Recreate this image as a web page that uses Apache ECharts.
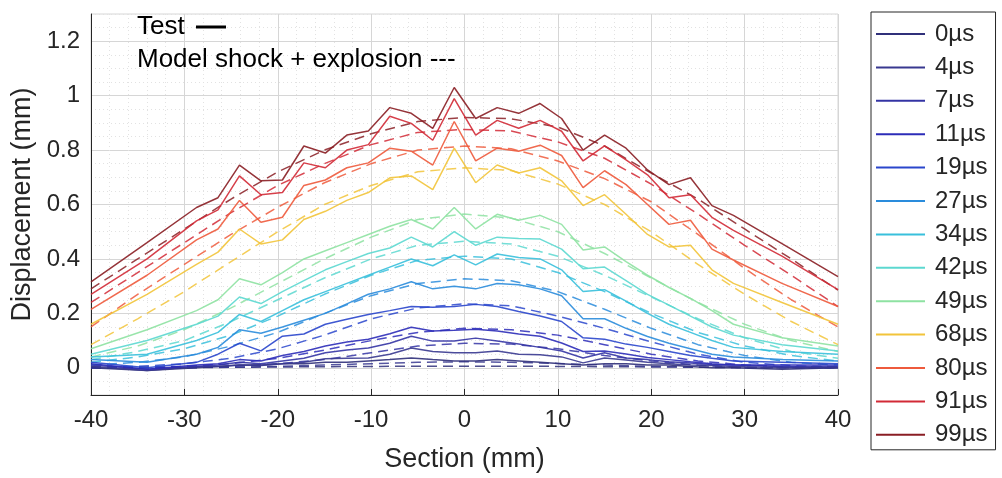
<!DOCTYPE html>
<html>
<head>
<meta charset="utf-8">
<script src="https://cdn.jsdelivr.net/npm/echarts@6/dist/echarts.min.js"></script>
<style>html,body{margin:0;padding:0;background:#fff;}#c{width:1002px;height:478px;}</style>
</head>
<body>
<div id="c"></div>
<script>
// ---- data ----
const timeLabels = ['0µs','4µs','7µs','11µs','19µs','27µs','34µs','42µs','49µs','68µs','80µs','91µs','99µs'];
const lineColors = ['#30307a','#383890','#3434a4','#2c2cb8','#2a46cc','#2a8cdc','#38c0dc','#5cd8d0','#8ee2a2','#f2c43a','#ee5a3c','#d22a36','#8a1e24'];
const testX = [-40,-34,-28.7,-26.4,-24.1,-21.8,-19.5,-17.2,-14.9,-12.6,-10.3,-8.0,-5.7,-3.4,-1.1,1.2,3.5,5.8,8.1,10.4,12.7,15.0,17.3,19.6,21.9,24.2,26.5,28.8,34,40];
const modelX = [-40,-35,-30,-25,-20,-15,-10,-5,0,5,10,15,20,25,30,35,40];
const yTickLabels = ['0','0.2','0.4','0.6','0.8','1','1.2'];

const t0  = [0.0,-0.01,0.0,0.005,0.01,0.01,0.015,0.015,0.02,0.02,0.025,0.03,0.036,0.03,0.025,0.025,0.03,0.025,0.02,0.015,0.01,0.015,0.015,0.01,0.01,0.005,0.0,0.0,-0.005,0.0];
const t4  = [0.005,-0.01,0.005,0.005,0.01,0.008,0.015,0.02,0.033,0.035,0.036,0.05,0.073,0.06,0.055,0.055,0.062,0.05,0.048,0.04,0.018,0.036,0.029,0.02,0.015,0.01,0.008,0.005,0.0,0.0];
const t7  = [0.01,-0.005,0.005,0.01,0.02,0.015,0.025,0.035,0.055,0.065,0.073,0.09,0.116,0.098,0.098,0.109,0.098,0.087,0.075,0.062,0.036,0.055,0.036,0.03,0.022,0.018,0.012,0.01,0.005,0.005];
const t11 = [0.015,-0.005,0.01,0.015,0.03,0.025,0.045,0.06,0.08,0.095,0.105,0.125,0.149,0.135,0.138,0.142,0.135,0.124,0.116,0.091,0.06,0.062,0.051,0.038,0.03,0.022,0.015,0.01,0.01,0.01];
const t19 = [0.02,0.0,0.02,0.05,0.09,0.062,0.116,0.124,0.16,0.178,0.196,0.21,0.225,0.222,0.225,0.233,0.225,0.207,0.19,0.17,0.11,0.105,0.087,0.075,0.06,0.045,0.035,0.025,0.02,0.015];
const t27 = [0.03,0.02,0.05,0.075,0.14,0.127,0.15,0.175,0.20,0.235,0.27,0.29,0.316,0.29,0.30,0.29,0.31,0.305,0.29,0.265,0.18,0.18,0.145,0.115,0.09,0.07,0.05,0.04,0.03,0.025];
const t34 = [0.04,0.05,0.10,0.13,0.196,0.17,0.21,0.25,0.28,0.31,0.34,0.37,0.40,0.375,0.415,0.378,0.418,0.405,0.40,0.36,0.28,0.287,0.245,0.20,0.16,0.13,0.10,0.075,0.06,0.05];
const t42 = [0.05,0.10,0.16,0.19,0.26,0.236,0.28,0.32,0.36,0.39,0.42,0.44,0.48,0.444,0.50,0.45,0.48,0.475,0.473,0.436,0.364,0.37,0.32,0.27,0.23,0.19,0.15,0.12,0.085,0.062];
const t49 = [0.07,0.14,0.21,0.25,0.327,0.305,0.35,0.40,0.43,0.46,0.49,0.52,0.545,0.51,0.589,0.51,0.564,0.542,0.56,0.527,0.433,0.444,0.39,0.34,0.295,0.255,0.21,0.16,0.11,0.08];
const t68 = [0.16,0.27,0.38,0.425,0.51,0.455,0.47,0.545,0.575,0.615,0.644,0.698,0.705,0.655,0.807,0.68,0.745,0.716,0.735,0.687,0.596,0.636,0.564,0.49,0.444,0.45,0.36,0.31,0.24,0.16];
const t80 = [0.215,0.34,0.47,0.51,0.615,0.535,0.553,0.67,0.69,0.735,0.753,0.807,0.796,0.745,0.905,0.76,0.807,0.796,0.818,0.78,0.662,0.724,0.673,0.60,0.527,0.542,0.436,0.396,0.31,0.225];
const t91 = [0.27,0.40,0.54,0.58,0.705,0.636,0.644,0.753,0.735,0.80,0.82,0.924,0.898,0.836,0.989,0.855,0.909,0.88,0.909,0.869,0.76,0.815,0.764,0.709,0.625,0.636,0.553,0.505,0.41,0.287];
const t99 = [0.316,0.46,0.589,0.625,0.745,0.687,0.69,0.815,0.789,0.855,0.87,0.956,0.935,0.88,1.03,0.916,0.956,0.935,0.971,0.916,0.80,0.855,0.807,0.727,0.673,0.698,0.596,0.56,0.456,0.335];

const m0  = [0.005,0.003,0.002,0.002,0.003,0.004,0.005,0.006,0.006,0.006,0.005,0.004,0.003,0.002,0.002,0.003,0.005];
const m4  = [0.0,0.0,0.0,0.002,0.005,0.01,0.015,0.02,0.022,0.02,0.016,0.01,0.005,0.002,0.0,0.0,0.0];
const m7  = [0.0,0.0,0.0,0.005,0.015,0.03,0.055,0.08,0.09,0.087,0.07,0.045,0.025,0.01,0.0,0.0,0.0];
const m11 = [0.0,0.0,0.005,0.015,0.035,0.065,0.10,0.13,0.145,0.14,0.12,0.085,0.05,0.025,0.01,0.003,0.0];
const m19 = [0.0,0.005,0.015,0.035,0.07,0.12,0.18,0.22,0.235,0.228,0.19,0.145,0.095,0.05,0.02,0.008,0.002];
const m27 = [0.01,0.02,0.04,0.08,0.13,0.20,0.265,0.31,0.327,0.32,0.28,0.215,0.145,0.085,0.045,0.02,0.01];
const m34 = [0.02,0.04,0.07,0.12,0.19,0.27,0.34,0.395,0.41,0.40,0.35,0.28,0.20,0.13,0.08,0.045,0.025];
const m42 = [0.03,0.06,0.10,0.17,0.25,0.33,0.40,0.45,0.465,0.455,0.41,0.34,0.26,0.18,0.11,0.06,0.035];
const m49 = [0.04,0.08,0.14,0.22,0.31,0.40,0.48,0.545,0.565,0.55,0.50,0.42,0.33,0.24,0.16,0.10,0.06];
const m68 = [0.085,0.18,0.28,0.39,0.50,0.60,0.67,0.72,0.735,0.725,0.675,0.60,0.50,0.38,0.27,0.17,0.085];
const m80 = [0.15,0.27,0.38,0.49,0.59,0.68,0.75,0.80,0.815,0.805,0.76,0.695,0.61,0.49,0.365,0.25,0.15];
const m91 = [0.24,0.35,0.46,0.57,0.67,0.75,0.82,0.865,0.876,0.87,0.83,0.77,0.675,0.565,0.45,0.34,0.225];
const m99 = [0.29,0.40,0.51,0.62,0.72,0.80,0.86,0.905,0.92,0.915,0.885,0.815,0.715,0.62,0.51,0.40,0.285];

const testSeries = [t0,t4,t7,t11,t19,t27,t34,t42,t49,t68,t80,t91,t99];
const modelSeries = [m0,m4,m7,m11,m19,m27,m34,m42,m49,m68,m80,m91,m99];

// ---- build ----
const FONT = '"Liberation Sans", Arial, Helvetica, sans-serif';
const TXT = '#262626';
const pairs = (xs, ys) => xs.map((x, i) => [x, ys[i]]);

const series = [];
modelSeries.forEach((ys, i) => {
  series.push({
    name: timeLabels[i] + ' model', type: 'line', data: pairs(modelX, ys),
    showSymbol: false, symbol: 'none', silent: true, z: 2,
    lineStyle: { color: lineColors[i], width: 1.5, type: [10, 6], opacity: 0.85 },
    itemStyle: { color: lineColors[i] }
  });
});
testSeries.forEach((ys, i) => {
  series.push({
    name: timeLabels[i], type: 'line', data: pairs(testX, ys),
    showSymbol: false, symbol: 'none', silent: true, z: 3,
    lineStyle: { color: lineColors[i], width: 1.5, opacity: 0.9 },
    itemStyle: { color: lineColors[i] }
  });
});

const chart = echarts.init(document.getElementById('c'), null, { renderer: 'canvas' });
chart.setOption({
  animation: false,
  backgroundColor: '#ffffff',
  textStyle: { fontFamily: FONT },
  grid: { left: 91, top: 14, width: 747, height: 385, show: true, borderColor: '#d6d6d6', borderWidth: 1, containLabel: false },
  xAxis: {
    type: 'value', min: -40, max: 40, interval: 10,
    name: 'Section (mm)', nameLocation: 'middle', nameGap: 51,
    nameTextStyle: { fontSize: 27, color: TXT, fontFamily: FONT },
    axisLine: { show: true, onZero: false, lineStyle: { color: TXT, width: 1 } },
    axisTick: { show: true, inside: true, length: 6, lineStyle: { color: TXT } },
    axisLabel: { fontSize: 24, color: TXT, margin: 13, fontFamily: FONT },
    splitLine: { show: true, lineStyle: { color: '#d6d6d6', width: 1 } },
    minorTick: { show: false, splitNumber: 5 },
    minorSplitLine: { show: true, lineStyle: { color: '#e2e2e2', width: 1, type: [1, 3] } }
  },
  yAxis: [
    {
      type: 'value', min: -0.1, max: 1.3, interval: 0.05,
      name: 'Displacement (mm)', nameLocation: 'middle', nameGap: 54, nameRotate: 90,
      nameTextStyle: { fontSize: 27, color: TXT, fontFamily: FONT },
      axisLine: { show: true, onZero: false, lineStyle: { color: TXT, width: 1 } },
      axisTick: { show: false },
      axisLabel: {
        fontSize: 24, color: TXT, margin: 11, fontFamily: FONT, showMinLabel: true, showMaxLabel: true,
        formatter: v => {
          const k = Math.round(v / 0.2);
          if (k >= 0 && k < yTickLabels.length && Math.abs(v - k * 0.2) < 1e-6) return yTickLabels[k];
          return '';
        }
      },
      splitLine: { show: true, lineStyle: { color: '#e2e2e2', width: 1, type: [1, 3] } }
    },
    {
      type: 'value', min: -0.1, max: 1.3, interval: 0.1, position: 'left',
      axisLine: { show: false }, axisTick: { show: false }, axisLabel: { show: false },
      splitLine: { show: true, lineStyle: { color: ['rgba(0,0,0,0)', '#d6d6d6'], width: 1 } }
    }
  ],
  legend: {
    data: timeLabels, orient: 'vertical', left: 871, top: 12,
    backgroundColor: '#ffffff', borderColor: TXT, borderWidth: 1,
    padding: [10, 8, 3, 5], itemGap: 9.4, itemWidth: 49, itemHeight: 2, icon: 'rect',
    textStyle: { fontSize: 24, color: TXT, lineHeight: 24, fontFamily: FONT, padding: [0, 0, 0, 5] },
    selectedMode: false
  },
  graphic: [
    { type: 'text', left: 137, top: 14, style: { text: 'Test', font: '26px ' + FONT, fill: '#000' }, z: 10 },
    { type: 'line', shape: { x1: 196, y1: 27, x2: 226, y2: 27 }, style: { stroke: '#000', lineWidth: 3 }, z: 10 },
    { type: 'text', left: 137, top: 47, style: { text: 'Model shock + explosion ---', font: '26px ' + FONT, fill: '#000' }, z: 10 }
  ],
  series: series
});
</script>
</body>
</html>
